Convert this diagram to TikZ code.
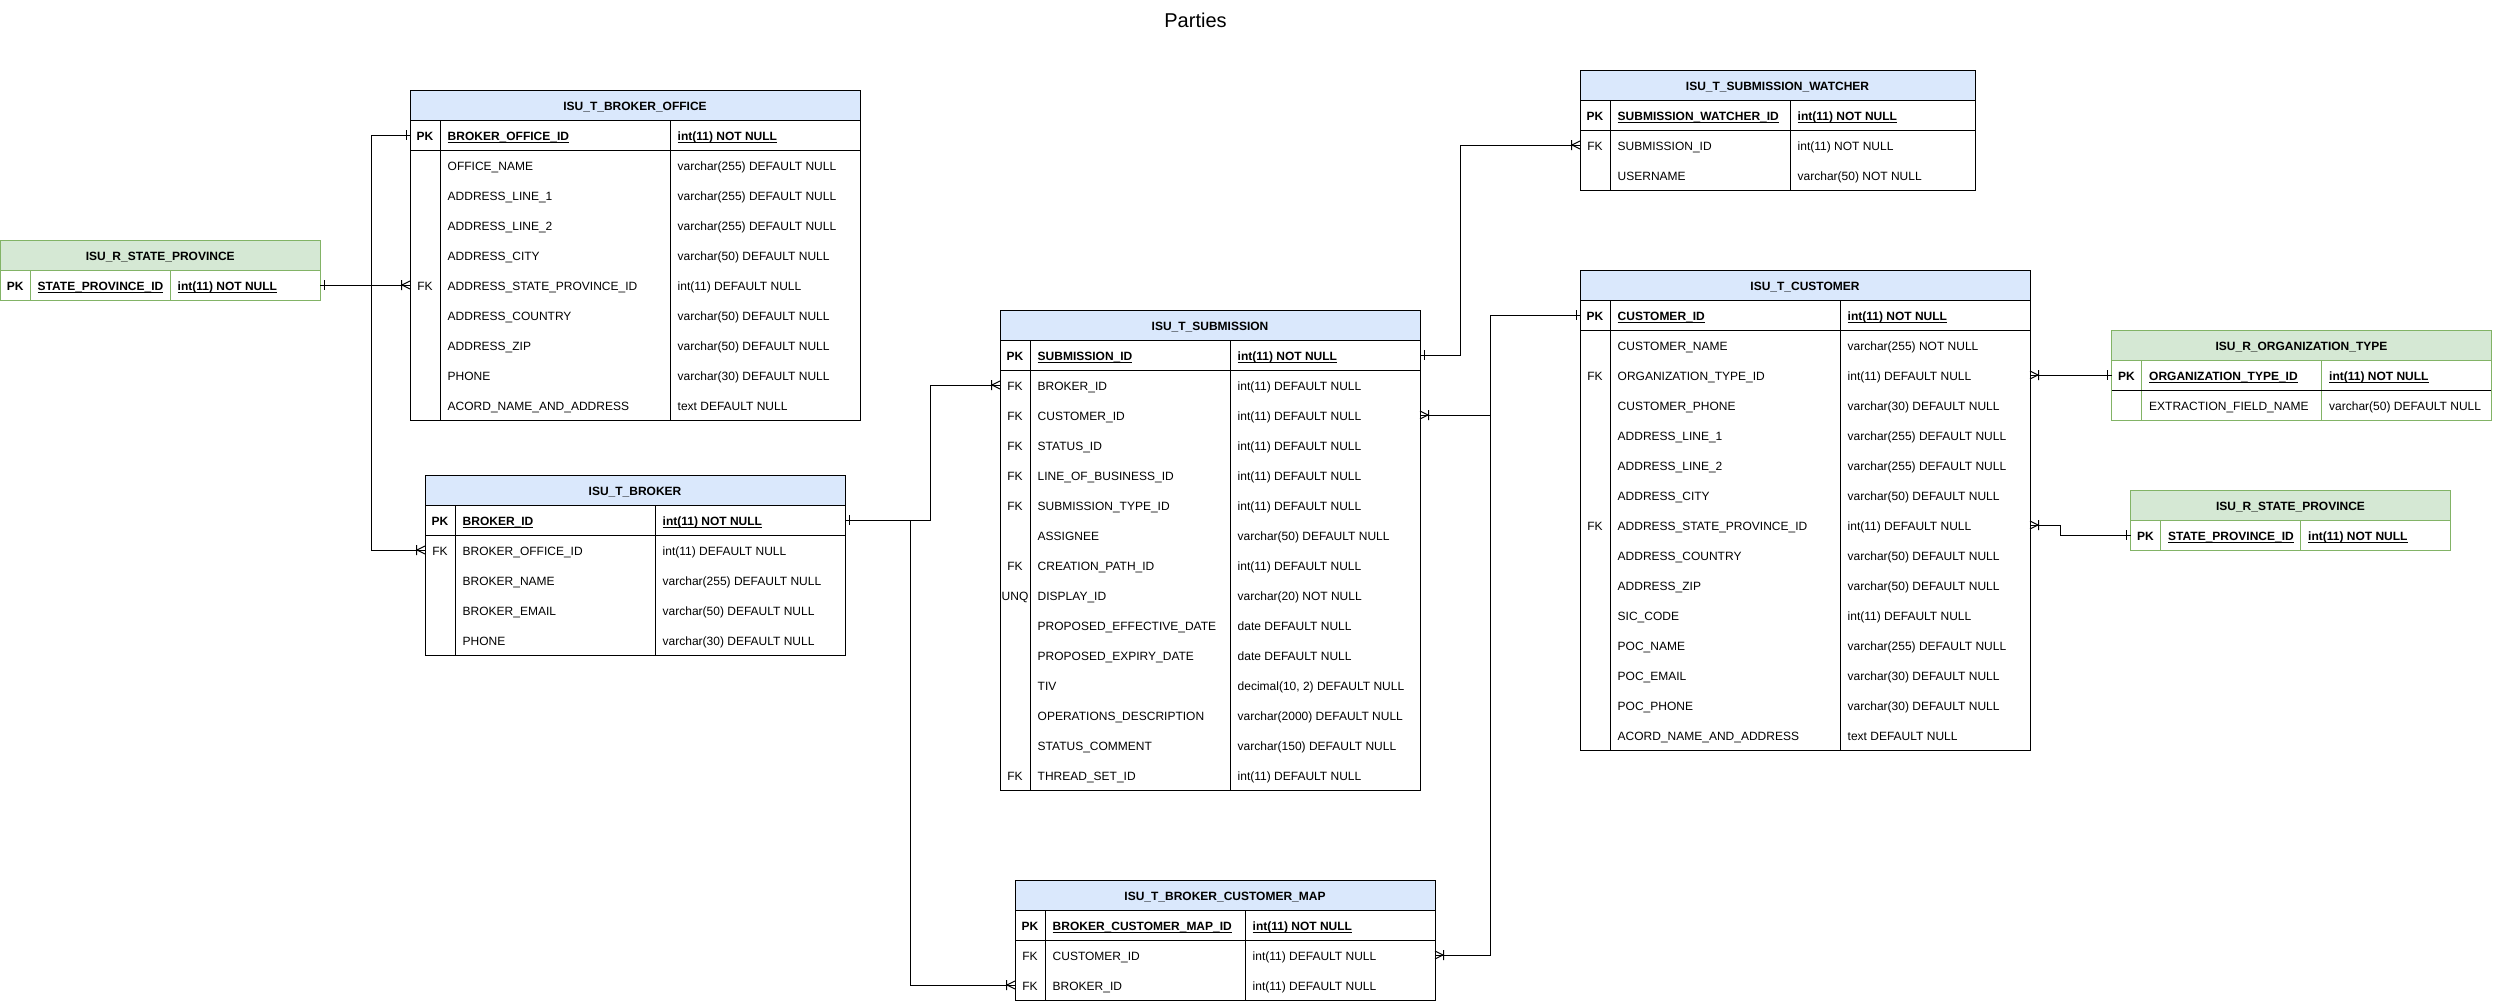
\documentclass[tikz,border=0pt]{standalone}
\usepackage{fontspec}
\setmainfont{Liberation Sans}
\definecolor{hblue}{HTML}{DAE8FC}
\definecolor{hgreen}{HTML}{D5E8D4}
\definecolor{sgreen}{HTML}{82B366}
\newcommand\fs{\fontsize{12}{14}\selectfont}
\newcommand\ulx[1]{\setbox0\hbox{#1}\rlap{\rule[-2pt]{\wd0}{0.9pt}}\box0}
\tikzset{
  conn/.style={line width=1pt, black},
  tline/.style={line width=1pt},
  cell/.style={inner sep=0pt, anchor=base west, font=\fs},
  keycell/.style={inner sep=0pt, anchor=base, font=\fs},
  rowbox/.style={draw=none, inner sep=0pt, outer sep=0pt, minimum height=30pt},
}
% table: id, x0, y0, pk divider, type divider, right, style(1 blue / 2 green), title, pk name
\newcommand\tbl[9]{%
  \def\tid{#1}\def\tx{#2}\def\ty{#3}\def\ta{#4}\def\tb{#5}\def\tc{#6}%
  \ifnum#7=1 \def\tfill{hblue}\def\tstroke{black}\else\def\tfill{hgreen}\def\tstroke{sgreen}\fi
  \pgfmathsetmacro\tw{#6-#2}%
  \node[rowbox, fill=\tfill, minimum width=\tw pt, anchor=north west] (#1-head) at (#2,#3) {};
  \node[inner sep=0pt, anchor=base, font=\fs\bfseries] (#1-title) at ({(#2+#6)/2},#3+20.5) {#8};
  \node[rowbox, minimum width=\tw pt, anchor=north west] (#1-pk) at (#2,#3+30) {};
  \node[keycell, font=\fs\bfseries] (#1-pkk) at ({(#2+#4)/2},#3+50.5) {PK};
  \node[cell, font=\fs\bfseries] (#1-pkn) at (#4+7.5,#3+50.5) {\ulx{#9}};
  \node[cell, font=\fs\bfseries] (#1-pkt) at (#5+7.5,#3+50.5) {\ulx{int(11) NOT NULL}};
}
\newcommand\tblrows[2]{%
  \ifnum#1>0
  \foreach \k/\n/\t [count=\i] in {#2} {
    \pgfmathsetmacro\cy{\ty+45+30*\i}
    \node[rowbox, minimum width=\tw pt, anchor=west] (\tid-r\i) at (\tx,\cy) {};
    \node[keycell] (\tid-k\i) at ({(\tx+\ta)/2},\cy+5.5) {\k};
    \node[cell] (\tid-n\i) at (\ta+7.5,\cy+5.5) {\n};
    \node[cell] (\tid-t\i) at (\tb+7.5,\cy+5.5) {\t};
  }
  \fi
  \pgfmathsetmacro\tbot{\ty+60+30*#1}
  \draw[tline, draw=\tstroke] (\tx,\ty+30) -- (\tc,\ty+30);
  \draw[tline, draw=\tstroke] (\ta,\ty+30) -- (\ta,\tbot);
  \draw[tline, draw=\tstroke] (\tb,\ty+30) -- (\tb,\tbot);
  \draw[tline, black] (\tx,\ty+60) -- (\tc,\ty+60);
  \draw[tline, draw=\tstroke] (\tx,\ty) rectangle (\tc,\tbot);
}
% cardinality marks: point, direction of the line leaving the table (+1 right, -1 left)
\newcommand\mkone[2]{\draw[conn, shift={(#1)}] (#2*4,-5) -- (#2*4,5);}
\newcommand\mkmany[2]{\draw[conn, shift={(#1)}] (0,-4) -- (#2*8,0) -- (0,4) (#2*8.5,-5) -- (#2*8.5,5);}
\begin{document}
\begin{tikzpicture}[x=1pt, y=-1pt]
\useasboundingbox (0,0) rectangle (2493,1001);
\node[inner sep=0pt, anchor=base, font=\fontsize{20}{24}\selectfont] (title) at (1195.5,27.3) {Parties};

% ISU_R_STATE_PROVINCE (left)
\tbl{spl}{0.5}{240}{30}{170}{320}{2}{ISU\_R\_STATE\_PROVINCE}{STATE\_PROVINCE\_ID}
\tblrows{0}{}

% ISU_T_BROKER_OFFICE
\tbl{office}{410}{90}{440}{670}{860}{1}{ISU\_T\_BROKER\_OFFICE}{BROKER\_OFFICE\_ID}
\tblrows{9}{/OFFICE\_NAME/varchar(255) DEFAULT NULL,
 /ADDRESS\_LINE\_1/varchar(255) DEFAULT NULL,
 /ADDRESS\_LINE\_2/varchar(255) DEFAULT NULL,
 /ADDRESS\_CITY/varchar(50) DEFAULT NULL,
 FK/ADDRESS\_STATE\_PROVINCE\_ID/int(11) DEFAULT NULL,
 /ADDRESS\_COUNTRY/varchar(50) DEFAULT NULL,
 /ADDRESS\_ZIP/varchar(50) DEFAULT NULL,
 /PHONE/varchar(30) DEFAULT NULL,
 /ACORD\_NAME\_AND\_ADDRESS/text DEFAULT NULL}

% ISU_T_BROKER
\tbl{broker}{425}{475}{455}{655}{845}{1}{ISU\_T\_BROKER}{BROKER\_ID}
\tblrows{4}{FK/BROKER\_OFFICE\_ID/int(11) DEFAULT NULL,
 /BROKER\_NAME/varchar(255) DEFAULT NULL,
 /BROKER\_EMAIL/varchar(50) DEFAULT NULL,
 /PHONE/varchar(30) DEFAULT NULL}

% ISU_T_SUBMISSION
\tbl{sub}{1000}{310}{1030}{1230}{1420}{1}{ISU\_T\_SUBMISSION}{SUBMISSION\_ID}
\tblrows{14}{FK/BROKER\_ID/int(11) DEFAULT NULL,
 FK/CUSTOMER\_ID/int(11) DEFAULT NULL,
 FK/STATUS\_ID/int(11) DEFAULT NULL,
 FK/LINE\_OF\_BUSINESS\_ID/int(11) DEFAULT NULL,
 FK/SUBMISSION\_TYPE\_ID/int(11) DEFAULT NULL,
 /ASSIGNEE/varchar(50) DEFAULT NULL,
 FK/CREATION\_PATH\_ID/int(11) DEFAULT NULL,
 UNQ/DISPLAY\_ID/varchar(20) NOT NULL,
 /PROPOSED\_EFFECTIVE\_DATE/date DEFAULT NULL,
 /PROPOSED\_EXPIRY\_DATE/date DEFAULT NULL,
 /TIV/{decimal(10, 2) DEFAULT NULL},
 /OPERATIONS\_DESCRIPTION/varchar(2000) DEFAULT NULL,
 /STATUS\_COMMENT/varchar(150) DEFAULT NULL,
 FK/THREAD\_SET\_ID/int(11) DEFAULT NULL}

% ISU_T_SUBMISSION_WATCHER
\tbl{watch}{1580}{70}{1610}{1790}{1975}{1}{ISU\_T\_SUBMISSION\_WATCHER}{SUBMISSION\_WATCHER\_ID}
\tblrows{2}{FK/SUBMISSION\_ID/int(11) NOT NULL,
 /USERNAME/varchar(50) NOT NULL}

% ISU_T_CUSTOMER
\tbl{cust}{1580}{270}{1610}{1840}{2030}{1}{ISU\_T\_CUSTOMER}{CUSTOMER\_ID}
\tblrows{14}{/CUSTOMER\_NAME/varchar(255) NOT NULL,
 FK/ORGANIZATION\_TYPE\_ID/int(11) DEFAULT NULL,
 /CUSTOMER\_PHONE/varchar(30) DEFAULT NULL,
 /ADDRESS\_LINE\_1/varchar(255) DEFAULT NULL,
 /ADDRESS\_LINE\_2/varchar(255) DEFAULT NULL,
 /ADDRESS\_CITY/varchar(50) DEFAULT NULL,
 FK/ADDRESS\_STATE\_PROVINCE\_ID/int(11) DEFAULT NULL,
 /ADDRESS\_COUNTRY/varchar(50) DEFAULT NULL,
 /ADDRESS\_ZIP/varchar(50) DEFAULT NULL,
 /SIC\_CODE/int(11) DEFAULT NULL,
 /POC\_NAME/varchar(255) DEFAULT NULL,
 /POC\_EMAIL/varchar(30) DEFAULT NULL,
 /POC\_PHONE/varchar(30) DEFAULT NULL,
 /ACORD\_NAME\_AND\_ADDRESS/text DEFAULT NULL}

% ISU_R_ORGANIZATION_TYPE
\tbl{org}{2111.5}{330}{2141.5}{2321.5}{2491.5}{2}{ISU\_R\_ORGANIZATION\_TYPE}{ORGANIZATION\_TYPE\_ID}
\tblrows{1}{/EXTRACTION\_FIELD\_NAME/varchar(50) DEFAULT NULL}

% ISU_R_STATE_PROVINCE (right)
\tbl{spr}{2130.5}{490}{2160.5}{2300.5}{2450.5}{2}{ISU\_R\_STATE\_PROVINCE}{STATE\_PROVINCE\_ID}
\tblrows{0}{}

% ISU_T_BROKER_CUSTOMER_MAP
\tbl{map}{1015}{880}{1045}{1245}{1435}{1}{ISU\_T\_BROKER\_CUSTOMER\_MAP}{BROKER\_CUSTOMER\_MAP\_ID}
\tblrows{2}{FK/CUSTOMER\_ID/int(11) DEFAULT NULL,
 FK/BROKER\_ID/int(11) DEFAULT NULL}

% connectors
\draw[conn] (spl-pk.east) -- (office-r5.west);
\mkone{spl-pk.east}{1}
\mkmany{office-r5.west}{-1}

\draw[conn] (office-pk.west) -- ++(-39,0) |- (broker-r1.west);
\mkone{office-pk.west}{-1}
\mkmany{broker-r1.west}{-1}

\draw[conn] (broker-pk.east) -- ++(85,0) |- (sub-r1.west);
\draw[conn] (broker-pk.east) -- ++(65,0) |- (map-r2.west);
\mkone{broker-pk.east}{1}
\mkmany{sub-r1.west}{-1}
\mkmany{map-r2.west}{-1}

\draw[conn] (sub-pk.east) -- ++(40,0) |- (watch-r1.west);
\mkone{sub-pk.east}{1}
\mkmany{watch-r1.west}{-1}

\draw[conn] (cust-pk.west) -- ++(-90,0) |- (sub-r2.east);
\draw[conn] (cust-pk.west) -- ++(-90,0) |- (map-r1.east);
\mkone{cust-pk.west}{-1}
\mkmany{sub-r2.east}{1}
\mkmany{map-r1.east}{1}

\draw[conn] (cust-r2.east) -- (org-pk.west);
\mkmany{cust-r2.east}{1}
\mkone{org-pk.west}{-1}

\draw[conn] (cust-r7.east) -- ++(30,0) |- (spr-pk.west);
\mkmany{cust-r7.east}{1}
\mkone{spr-pk.west}{-1}
\end{tikzpicture}
\end{document}
